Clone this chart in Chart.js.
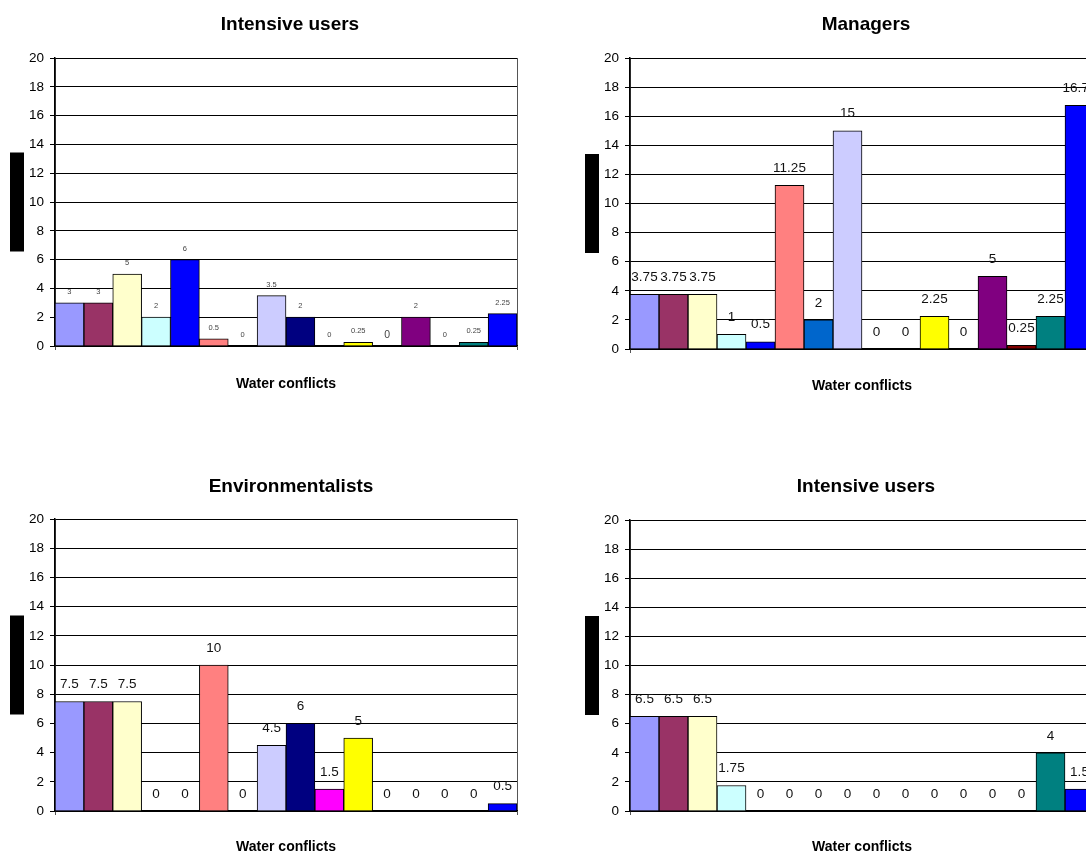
<!DOCTYPE html>
<html lang="en">
<head>
<meta charset="UTF-8">
<title>Water conflicts</title>
<script src="https://cdn.jsdelivr.net/npm/chart.js"></script>
<style>
  html, body {
    margin: 0;
    padding: 0;
    background: #fff;
    width: 1086px;
    height: 854px;
    overflow: hidden;
    position: relative;
  }
  canvas {
    position: absolute;
  }
</style>
</head>
<body>
<canvas id="c1"></canvas>
<canvas id="c2"></canvas>
<canvas id="c3"></canvas>
<canvas id="c4"></canvas>

<script>
// 数据
const categories = ['Water conflicts'];
const seriesNames = [
  'Series 1', 'Series 2', 'Series 3', 'Series 4', 'Series 5', 'Series 6', 'Series 7', 'Series 8',
  'Series 9', 'Series 10', 'Series 11', 'Series 12', 'Series 13', 'Series 14', 'Series 15', 'Series 16'
];
const intensiveUsersA = [3, 3, 5, 2, 6, 0.5, 0, 3.5, 2, 0, 0.25, 0, 2, 0, 0.25, 2.25];
const managers = [3.75, 3.75, 3.75, 1, 0.5, 11.25, 2, 15, 0, 0, 2.25, 0, 5, 0.25, 2.25, 16.75];
const environmentalists = [7.5, 7.5, 7.5, 0, 0, 10, 0, 4.5, 6, 1.5, 5, 0, 0, 0, 0, 0.5];
const intensiveUsersB = [6.5, 6.5, 6.5, 1.75, 0, 0, 0, 0, 0, 0, 0, 0, 0, 0, 4, 1.5];
const yTicks = [0, 2, 4, 6, 8, 10, 12, 14, 16, 18, 20];

// 样式
const seriesColors = [
  '#9999FF', '#993366', '#FFFFCC', '#CCFFFF', '#0000FF', '#FF8080', '#0066CC', '#CCCCFF',
  '#000080', '#FF00FF', '#FFFF00', '#00FFFF', '#800080', '#800000', '#008080', '#0000FF'
];
const smallLabelSizes = [7.5, 7.5, 7.5, 7.5, 7.5, 7.5, 7.5, 7.5, 7.5, 7.5, 7.5, 10.5, 7.5, 7.5, 7.5, 7.5];
const FONT = '"Liberation Sans", Arial, Helvetica, sans-serif';

const panels = [
  { id: 'c1', title: 'Intensive users', values: intensiveUsersA, left: 0, top: 0, width: 580,
    plotLeft: 55, plotRight: 517, plotTop: 58, plotBottom: 346, xTitleY: 384,
    labelSizes: smallLabelSizes, labelColor: '#444', labelGap: 11 },
  { id: 'c2', title: 'Managers', values: managers, left: 575, top: 0, width: 582,
    plotLeft: 55, plotRight: 519, plotTop: 58, plotBottom: 349, xTitleY: 386,
    labelSizes: null, labelColor: '#111', labelGap: 17 },
  { id: 'c3', title: 'Environmentalists', values: environmentalists, left: 0, top: 462, width: 582,
    plotLeft: 55, plotRight: 517, plotTop: 57, plotBottom: 349, xTitleY: 385,
    labelSizes: null, labelColor: '#111', labelGap: 17 },
  { id: 'c4', title: 'Intensive users', values: intensiveUsersB, left: 575, top: 462, width: 582,
    plotLeft: 55, plotRight: 519, plotTop: 58, plotBottom: 349, xTitleY: 385,
    labelSizes: null, labelColor: '#111', labelGap: 17 }
];

const CANVAS_H = 420;
const TITLE_SIZE = 19;
const TITLE_CENTER = 25;

// 柱顶数值标签
const barLabels = {
  id: 'barLabels',
  afterDatasetsDraw(chart, args, opts) {
    const ctx = chart.ctx;
    ctx.save();
    ctx.textAlign = 'center';
    ctx.textBaseline = 'middle';
    ctx.fillStyle = opts.color;
    chart.data.datasets.forEach((ds, i) => {
      const meta = chart.getDatasetMeta(i);
      meta.data.forEach((bar, j) => {
        const size = opts.sizes ? opts.sizes[i] : 13.5;
        ctx.font = size + 'px ' + FONT;
        ctx.fillText(String(ds.data[j]), bar.x, bar.y - opts.gap);
      });
    });
    ctx.restore();
  }
};

// 纵轴标题（原图中被遮挡的黑块）
const axisBlock = {
  id: 'axisBlock',
  afterDraw(chart) {
    const area = chart.chartArea;
    const mid = (area.top + area.bottom) / 2;
    const ctx = chart.ctx;
    ctx.save();
    ctx.fillStyle = '#000';
    ctx.fillRect(10, mid - 49.5, 14, 99);
    ctx.restore();
  }
};

panels.forEach(p => {
  const canvas = document.getElementById(p.id);
  canvas.width = p.width;
  canvas.height = CANVAS_H;
  canvas.style.left = p.left + 'px';
  canvas.style.top = p.top + 'px';
  canvas.style.width = p.width + 'px';
  canvas.style.height = CANVAS_H + 'px';

  const lineH = TITLE_SIZE * 1.2;
  const titleTopPad = TITLE_CENTER - lineH / 2;
  const xTitleLineH = 14 * 1.2;

  new Chart(canvas, {
    type: 'bar',
    data: {
      labels: categories,
      datasets: seriesNames.map((name, i) => ({
        label: name,
        data: [p.values[i]],
        backgroundColor: seriesColors[i],
        borderColor: '#000',
        borderWidth: 1,
        categoryPercentage: 1,
        barPercentage: 1
      }))
    },
    options: {
      responsive: false,
      animation: false,
      events: [],
      layout: {
        padding: 0
      },
      plugins: {
        legend: { display: false },
        tooltip: { enabled: false },
        title: {
          display: true,
          text: p.title,
          color: '#000',
          font: { family: FONT, size: TITLE_SIZE, weight: 'bold' },
          padding: { top: titleTopPad, bottom: p.plotTop - titleTopPad - lineH }
        },
        barLabels: { color: p.labelColor, sizes: p.labelSizes, gap: p.labelGap }
      },
      scales: {
        x: {
          offset: true,
          ticks: { display: false },
          grid: {
            display: true,
            offset: true,
            drawOnChartArea: true,
            color: '#555',
            lineWidth: 1,
            tickLength: 4
          },
          border: { display: true, color: '#000', width: 1.5 },
          title: {
            display: true,
            text: categories[0],
            color: '#000',
            font: { family: FONT, size: 14, weight: 'bold' },
            padding: { top: 0, bottom: CANVAS_H - p.xTitleY - xTitleLineH / 2 }
          },
          afterFit(scale) { scale.height = CANVAS_H - p.plotBottom; }
        },
        y: {
          min: yTicks[0],
          max: yTicks[yTicks.length - 1],
          afterBuildTicks(scale) { scale.ticks = yTicks.map(v => ({ value: v })); },
          ticks: {
            color: '#000',
            padding: 6,
            font: { family: FONT, size: 13.5 }
          },
          grid: { color: '#000', lineWidth: 1, tickLength: 5 },
          border: { display: true, color: '#000', width: 1.5 },
          afterFit(scale) { scale.width = p.plotLeft; }
        },
        // 右侧留白，使标题在整幅图中居中
        yPad: {
          position: 'right',
          display: true,
          min: 0,
          max: 1,
          ticks: { display: false },
          grid: { display: false },
          border: { display: false },
          afterFit(scale) { scale.width = p.width - p.plotRight; }
        }
      }
    },
    plugins: [barLabels, axisBlock]
  });
});
</script>
</body>
</html>
